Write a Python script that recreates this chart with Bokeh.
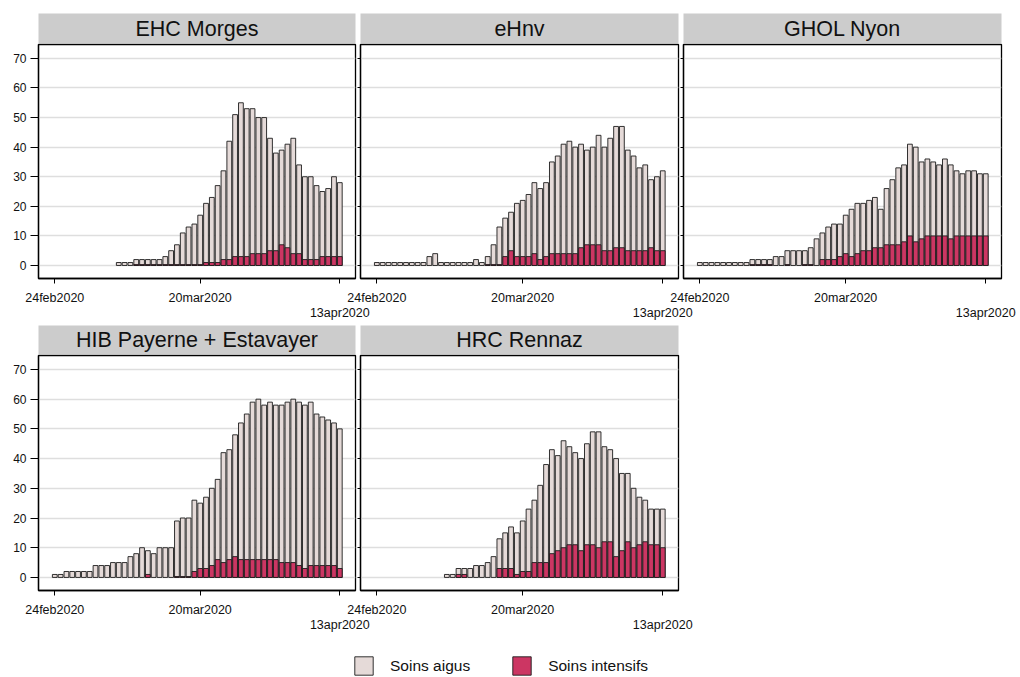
import numpy as np
from bokeh.plotting import figure
from bokeh.models import (Range1d, FixedTicker, LinearAxis, Label, Legend,
                          LegendItem, ColumnDataSource, Column, Row)
from bokeh.embed import file_html
from bokeh.resources import INLINE

# ---------------- data (day 0 = 24feb2020 ... day 49 = 13apr2020) -------------
days = list(range(50))
tick_days = [0, 25, 49]
tick_labels = ["24feb2020", "20mar2020", "13apr2020"]
y_ticks = [0, 10, 20, 30, 40, 50, 60, 70]
series_labels = ["Soins aigus", "Soins intensifs"]
N = None

ehc_total = [N, N, N, N, N, N, N, N, N, N, N, 1, 1, 1, 2, 2, 2, 2, 2, 3,
             5, 7, 11, 13, 14, 17, 21, 23, 27, 32, 42, 51, 55, 53, 53, 50, 50, 43, 38, 39,
             41, 43, 34, 30, 30, 27, 25, 26, 30, 28]
ehc_icu = [N, N, N, N, N, N, N, N, N, N, N, N, N, N, 0.3, 0.3, 0.3, 0.3, 0.3, 0.3,
           0.3, 0.3, 0.3, 0.3, 0.3, 0.3, 1, 1, 1, 2, 2, 3, 3, 3, 4, 4, 4, 5, 5, 7,
           6, 4, 4, 2, 2, 2, 3, 3, 3, 3]

ehnv_total = [1, 1, 1, 1, 1, 1, 1, 1, 1, 3, 4, 1, 1, 1, 1, 1, 1, 2, 1, 3,
              7, 13, 16, 18, 21, 22, 24, 28, 26, 28, 35, 37, 41, 42, 40, 41, 39, 40, 44, 40,
              43, 47, 47, 39, 37, 33, 34, 29, 30, 32]
ehnv_icu = [N, N, N, N, N, N, N, N, N, N, N, N, N, N, N, N, N, N, N, 0.3,
            0.3, 0.3, 3, 5, 3, 3, 3, 4, 2, 3, 4, 4, 4, 4, 4, 6, 7, 7, 7, 5,
            5, 6, 6, 5, 5, 5, 5, 6, 5, 5]

ghol_total = [1, 1, 1, 1, 1, 1, 1, 1, 1, 2, 2, 2, 2, 3, 3, 5, 5, 5, 5, 6,
              9, 11, 13, 14, 14, 17, 19, 21, 21, 22, 23, 19, 26, 29, 33, 34, 41, 40, 35, 36,
              35, 34, 36, 34, 32, 31, 32, 32, 31, 31]
ghol_icu = [N, N, N, N, N, N, N, N, N, 0.3, 0.3, 0.3, 0.3, N, N, 0.3, N, N, 0.3, 0.3,
            N, 2, 2, 2, 3, 4, 3, 4, 5, 5, 6, 6, 7, 7, 7, 8, 10, 8, 9, 10,
            10, 10, 10, 9, 10, 10, 10, 10, 10, 10]

hib_total = [1, 1, 2, 2, 2, 2, 2, 4, 4, 4, 5, 5, 5, 7, 8, 10, 9, 8, 10, 10,
             10, 19, 20, 20, 26, 25, 27, 30, 33, 42, 43, 48, 52, 55, 59, 60, 58, 59, 58, 58,
             59, 60, 59, 58, 59, 55, 54, 53, 52, 50]
hib_icu = [N, N, N, N, N, N, N, N, N, N, N, N, N, N, N, N, 1, N, N, N,
           N, 0.3, 0.3, 0.3, 2, 3, 3, 4, 6, 5, 6, 7, 6, 6, 6, 6, 6, 6, 6, 5,
           5, 5, 4, 3, 4, 4, 4, 4, 4, 3]

hrc_total = [N, N, N, N, N, N, N, N, N, N, N, N, 1, 1, 3, 3, 3, 4, 4, 5,
             7, 13, 15, 17, 15, 19, 23, 26, 31, 38, 43, 41, 46, 44, 42, 40, 45, 49, 49, 44,
             43, 40, 35, 35, 30, 27, 26, 23, 23, 23]
hrc_icu = [N, N, N, N, N, N, N, N, N, N, N, N, N, N, 1, 1, N, N, N, N,
           N, 3, 3, 3, 1, 2, 2, 5, 5, 5, 8, 9, 10, 11, 11, 9, 11, 11, 10, 12,
           12, 7, 9, 12, 10, 11, 12, 11, 11, 10]

panels = [
    ("EHC Morges", ehc_total, ehc_icu),
    ("eHnv", ehnv_total, ehnv_icu),
    ("GHOL Nyon", ghol_total, ghol_icu),
    ("HIB Payerne + Estavayer", hib_total, hib_icu),
    ("HRC Rennaz", hrc_total, hrc_icu),
]

# ---------------- style ----------------
FONT = "Liberation Sans"
LIGHT = "#e5dad8"
RED = "#cc3663"
EDGE = "#1c1c1c"
STRIP = "#cccccc"
GRID = "#dedede"
TICK_FS = "12.5px"


def make_strip(name, width, bl, br, height, top):
    s = figure(width=width, height=height, x_range=Range1d(0, 1), y_range=Range1d(0, 1),
               x_axis_type=None, y_axis_type=None, toolbar_location=None,
               output_backend="svg", min_border_left=bl, min_border_right=br,
               min_border_top=top, min_border_bottom=0)
    s.background_fill_color = STRIP
    s.border_fill_color = None
    s.outline_line_color = None
    s.add_layout(Label(x=0.5, y=0.5, text=name, text_align="center",
                       text_baseline="middle", text_font=FONT,
                       text_font_size="21.5px", text_color="#111111"))
    return s


def make_panel(total, icu, width, height, bl, br, bottom, show_y):
    p = figure(width=width, height=height, x_range=Range1d(-2.8, 51.7),
               y_range=Range1d(-4.4, 74.7), toolbar_location=None,
               output_backend="svg", min_border_left=bl, min_border_right=br,
               min_border_top=1, min_border_bottom=bottom)
    p.border_fill_color = None
    p.background_fill_color = "white"
    p.outline_line_color = "black"
    p.outline_line_width = 1.3
    src = ColumnDataSource(dict(day=days,
                                total=np.array(total, dtype=float),
                                icu=np.array(icu, dtype=float)))
    p.vbar(x="day", top="total", bottom=0, width=0.82, source=src,
           fill_color=LIGHT, line_color=EDGE, line_width=0.9)
    p.vbar(x="day", top="icu", bottom=0, width=0.82, source=src,
           fill_color=RED, line_color=EDGE, line_width=0.9)

    p.xgrid.visible = False
    p.ygrid.grid_line_color = GRID
    p.ygrid.grid_line_width = 1.4

    # y axis
    ya = p.yaxis[0]
    ya.ticker = FixedTicker(ticks=y_ticks)
    ya.minor_tick_line_color = None
    ya.major_tick_in = 0
    ya.axis_line_color = "black"
    ya.axis_line_width = 1.3
    ya.major_tick_line_color = "black"
    ya.major_label_text_font = FONT
    ya.major_label_text_font_size = "12px"
    ya.major_label_text_color = "#111111"
    if show_y:
        ya.major_tick_out = 8
        ya.major_label_standoff = 4
    else:
        ya.major_tick_out = 3
        ya.major_label_overrides = {t: "" for t in y_ticks}

    # x axis (first two labels)
    xa = p.xaxis[0]
    xa.ticker = FixedTicker(ticks=tick_days)
    xa.major_label_overrides = {tick_days[0]: tick_labels[0],
                                tick_days[1]: tick_labels[1],
                                tick_days[2]: ""}
    xa.minor_tick_line_color = None
    xa.major_tick_in = 0
    xa.major_tick_out = 5
    xa.axis_line_color = "black"
    xa.axis_line_width = 1.3
    xa.major_label_standoff = 7
    xa.major_label_text_font = FONT
    xa.major_label_text_font_size = TICK_FS
    xa.major_label_text_color = "#111111"

    # staggered last label
    xb = LinearAxis(ticker=FixedTicker(ticks=[tick_days[2]]),
                    major_label_overrides={tick_days[2]: tick_labels[2]})
    xb.axis_line_color = None
    xb.major_tick_line_color = None
    xb.minor_tick_line_color = None
    xb.major_tick_in = 0
    xb.major_tick_out = 0
    xb.major_label_standoff = -2
    xb.major_label_text_font = FONT
    xb.major_label_text_font_size = TICK_FS
    xb.major_label_text_color = "#111111"
    p.add_layout(xb, "below")
    return p


# column geometry: (left border, frame width, right border, margin-left)
geo = [(30, 317, 20, 0), (18, 318, 20, -33), (18, 318, 16, -33)]

row1_children = []
row2_children = []
for i, (name, tot, icu) in enumerate(panels):
    r = 0 if i < 3 else 1
    bl, fw, br, ml = geo[i] if i < 3 else geo[i - 3]
    w = bl + fw + br
    if r == 0:
        strip = make_strip(name, w, bl, br, 35, 5)
        pan = make_panel(tot, icu, w, 1 + 234 + 44, bl, br, 44, i == 0)
    else:
        strip = make_strip(name, w, bl, br, 32, 3)
        pan = make_panel(tot, icu, w, 1 + 235 + 44, bl, br, 44, i == 3)
    col = Column(children=[strip, pan], margin=(0, 0, 0, ml))
    (row1_children if r == 0 else row2_children).append(col)

row1 = Row(children=row1_children)
row2 = Row(children=row2_children)

# legend strip
lf = figure(width=1004, height=43, x_range=Range1d(0, 1), y_range=Range1d(0, 1),
            x_axis_type=None, y_axis_type=None, toolbar_location=None,
            output_backend="svg", min_border=0)
lf.outline_line_color = None
lf.border_fill_color = None
r1 = lf.vbar(x=[-5], top=[-5], width=0.1, fill_color=LIGHT, line_color=EDGE, line_width=0.9)
r2 = lf.vbar(x=[-5], top=[-5], width=0.1, fill_color=RED, line_color=EDGE, line_width=0.9)
leg = Legend(items=[LegendItem(label=series_labels[0], renderers=[r1]),
                    LegendItem(label=series_labels[1], renderers=[r2])],
             orientation="horizontal", location=(344, 0),
             glyph_width=23, glyph_height=23, label_standoff=15, spacing=40,
             padding=0, margin=0, border_line_color=None, background_fill_alpha=0,
             label_text_font=FONT, label_text_font_size="15.5px",
             label_text_color="#111111", label_height=23)
lf.add_layout(leg)

layout = Column(children=[row1, row2, lf], margin=(8, 0, 0, 8))

open("out.html", "w").write(file_html(layout, INLINE))
